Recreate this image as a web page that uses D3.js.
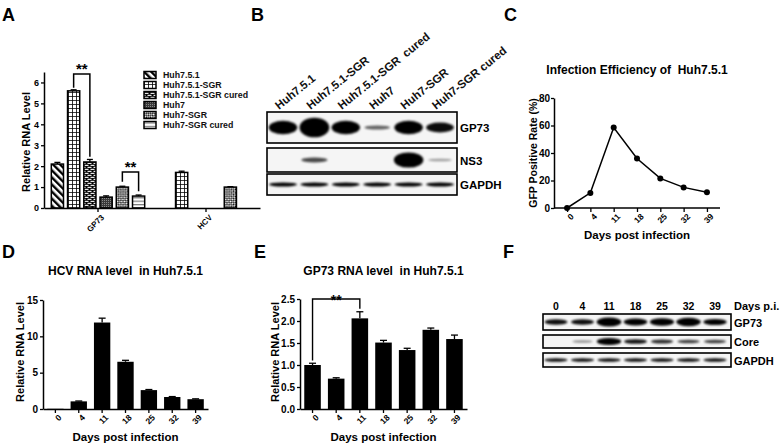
<!DOCTYPE html>
<html><head><meta charset="utf-8">
<script src="https://cdn.jsdelivr.net/npm/d3@7"></script>
<style>
html,body{margin:0;padding:0;background:#fff;}
svg{display:block;font-family:"Liberation Sans",Arial,sans-serif;}
.tick text{font-weight:bold;}
</style></head>
<body><svg id="c" width="781" height="446"></svg>
<script>
// ---------- data ----------
const groupsA = ["GP73", "HCV"];
const seriesA = ["Huh7.5.1", "Huh7.5.1-SGR", "Huh7.5.1-SGR cured", "Huh7", "Huh7-SGR", "Huh7-SGR cured"];
const gp73A = [2.1, 5.6, 2.2, 0.52, 1.0, 0.57];
const gp73ErrA = [0.08, 0.05, 0.12, 0.06, 0.04, 0.05];
const hcvA = [0, 1.7, 0, 0, 1.0, 0];
const hcvErrA = [0, 0.06, 0, 0, 0.02, 0];
const ticksA = [0, 1, 2, 3, 4, 5, 6];

const lanesB = ["Huh7.5.1", "Huh7.5.1-SGR", "Huh7.5.1-SGR  cured", "Huh7", "Huh7-SGR", "Huh7-SGR cured"];
const proteinsB = ["GP73", "NS3", "GAPDH"];
const gp73BlotB = [0.8, 1.0, 0.8, 0.3, 0.8, 0.65];
const ns3BlotB = [0, 0.4, 0, 0, 0.95, 0.06];
const gapdhBlotB = [0.7, 0.7, 0.7, 0.7, 0.7, 0.7];

const days = ["0", "4", "11", "18", "25", "32", "39"];
const gfpRate = [0, 11, 58.5, 36, 21.5, 15, 11.5];
const ticksC = [0, 20, 40, 60, 80];

const hcvRna = [0.03, 1.05, 11.9, 6.5, 2.6, 1.65, 1.35];
const hcvRnaErr = [0, 0.05, 0.6, 0.2, 0.08, 0.06, 0.05];
const ticksD = [0, 5, 10, 15];

const gp73Rna = [1.0, 0.69, 2.06, 1.51, 1.34, 1.8, 1.59];
const gp73RnaErr = [0.04, 0.02, 0.15, 0.05, 0.04, 0.04, 0.09];
const ticksE = [0, 0.5, 1.0, 1.5, 2.0, 2.5];

const proteinsF = ["GP73", "Core", "GAPDH"];
const gp73BlotF = [0.65, 0.65, 0.95, 0.78, 0.85, 0.9, 0.72];
const coreBlotF = [0, 0.12, 0.9, 0.62, 0.52, 0.45, 0.45];
const gapdhBlotF = [0.65, 0.65, 0.65, 0.65, 0.65, 0.65, 0.65];

// ---------- setup ----------
const svg = d3.select("#c");
const defs = svg.append("defs");
defs.append("filter").attr("id", "blur").attr("x", "-50%").attr("y", "-100%").attr("width", "200%").attr("height", "300%")
  .append("feGaussianBlur").attr("stdDeviation", 1.1);

function pat(id, w, h, bg, transform) {
  const p = defs.append("pattern").attr("id", id).attr("patternUnits", "userSpaceOnUse").attr("width", w).attr("height", h);
  if (transform) p.attr("patternTransform", transform);
  p.append("rect").attr("width", w).attr("height", h).attr("fill", bg);
  return p;
}
// 1 diagonal stripes
pat("p0", 5, 5, "#fff", "rotate(-45)").append("rect").attr("width", 2.4).attr("height", 5).attr("fill", "#000");
// 2 grid
const p1 = pat("p1", 4, 4, "#fff");
p1.append("path").attr("d", "M0,0H4M0,0V4").attr("stroke", "#000").attr("stroke-width", 1.6);
// 3 brick
const p2 = pat("p2", 6, 4, "#000");
p2.append("rect").attr("x", 0.5).attr("y", 0.8).attr("width", 4).attr("height", 1.1).attr("fill", "#fff");
p2.append("rect").attr("x", -2.5).attr("y", 2.8).attr("width", 4).attr("height", 1.1).attr("fill", "#fff");
p2.append("rect").attr("x", 3.5).attr("y", 2.8).attr("width", 4).attr("height", 1.1).attr("fill", "#fff");
// 4 dense dark hatch
const p3 = pat("p3", 2, 2, "#3a3a3a");
p3.append("rect").attr("width", 1).attr("height", 1).attr("fill", "#8a8a8a");
// 5 checker diamonds
const p4 = pat("p4", 3, 3, "#fff", "rotate(45)");
p4.append("rect").attr("width", 1.5).attr("height", 1.5).attr("fill", "#000");
p4.append("rect").attr("x", 1.5).attr("y", 1.5).attr("width", 1.5).attr("height", 1.5).attr("fill", "#000");
// 6 horizontal lines
const p5 = pat("p5", 4, 3.4, "#fff");
p5.append("rect").attr("y", 0).attr("width", 4).attr("height", 1.2).attr("fill", "#777");

function panelLetter(t, x, y) {
  svg.append("text").attr("x", x).attr("y", y).attr("font-size", 18).attr("font-weight", "bold").text(t);
}
function styleAxis(g, fs) {
  g.selectAll(".domain").attr("stroke", "#000").attr("stroke-width", 1.5);
  g.selectAll(".tick line").attr("stroke", "#000").attr("stroke-width", 1.3);
  g.selectAll(".tick text").attr("font-size", fs || 9).attr("fill", "#000").attr("font-family", "Liberation Sans, Arial, sans-serif");
}
function yTitle(t, x, y, fs) {
  svg.append("text").attr("transform", `translate(${x},${y}) rotate(-90)`).attr("text-anchor", "middle")
    .attr("font-size", fs || 11.5).attr("font-weight", "bold").text(t);
}
function text(t, x, y, fs, anchor, weight) {
  return svg.append("text").attr("x", x).attr("y", y).attr("font-size", fs).attr("text-anchor", anchor || "middle")
    .attr("font-weight", weight || "bold").text(t);
}
function errBar(g, cx, yTop, yErr, half) {
  g.append("line").attr("x1", cx).attr("x2", cx).attr("y1", yTop).attr("y2", yErr).attr("stroke", "#000").attr("stroke-width", 1.3);
  g.append("line").attr("x1", cx - half).attr("x2", cx + half).attr("y1", yErr).attr("y2", yErr).attr("stroke", "#000").attr("stroke-width", 1.3);
}

// ---------- Panel A ----------
panelLetter("A", 2, 21);
{
  const y = d3.scaleLinear().domain([0, 6.5]).range([208, 72]);
  const x0 = d3.scaleBand().domain(groupsA).range([44, 260]);
  const x1 = d3.scaleBand().domain(seriesA).range([0, x0.bandwidth()]).paddingInner(0.25).paddingOuter(0.45);
  const g = svg.append("g");
  const valsByGroup = [gp73A, hcvA];
  const errByGroup = [gp73ErrA, hcvErrA];
  groupsA.forEach((grp, gi) => {
    seriesA.forEach((s, si) => {
      const v = valsByGroup[gi][si];
      if (v <= 0) return;
      const bx = x0(grp) + x1(s);
      const bw = x1.bandwidth();
      errBar(g, bx + bw / 2, y(v), y(v + errByGroup[gi][si]), 3);
      g.append("rect").attr("x", bx).attr("y", y(v)).attr("width", bw).attr("height", y(0) - y(v))
        .attr("fill", `url(#p${si})`).attr("stroke", "#000").attr("stroke-width", 1.5);
    });
  });
  const ya = svg.append("g").attr("transform", "translate(44,0)")
    .call(d3.axisLeft(y).tickValues(ticksA).tickFormat(d3.format("d")).tickSize(3).tickPadding(2).tickSizeOuter(0));
  styleAxis(ya, 9);
  const xa = svg.append("g").attr("transform", "translate(0,208)").call(d3.axisBottom(x0).tickSize(4).tickSizeOuter(0));
  styleAxis(xa, 8);
  xa.selectAll(".tick text").attr("transform", "rotate(-45)").attr("text-anchor", "end").attr("dx", "-0.3em").attr("dy", "0.6em").attr("font-weight", "normal");
  yTitle("Relative RNA Level", 30, 142, 11);
  // significance brackets
  const cx = (gi, si) => x0(groupsA[gi]) + x1(seriesA[si]) + x1.bandwidth() / 2;
  function bracket(a, b, ya1, yb1, top, label) {
    svg.append("path").attr("d", `M${a},${ya1}V${top}H${b}V${yb1}`).attr("fill", "none").attr("stroke", "#000").attr("stroke-width", 1.5);
    text(label, (a + b) / 2, top - 0.5, 15, "middle", "bold");
  }
  bracket(cx(0, 1), cx(0, 2), y(5.75), y(2.45), 74, "**");
  bracket(cx(0, 4), cx(0, 5), y(1.25), y(0.8), 172, "**");
  // legend
  const lg = svg.append("g");
  const legY = [75, 85, 95, 105, 115, 125];
  seriesA.forEach((s, i) => {
    lg.append("rect").attr("x", 144).attr("y", legY[i] - 3.5).attr("width", 12).attr("height", 7)
      .attr("fill", `url(#p${i})`).attr("stroke", "#000").attr("stroke-width", 1.5);
    lg.append("text").attr("x", 163).attr("y", legY[i] + 3.2).attr("font-size", 8.8).attr("font-weight", "bold").attr("fill", "#111").text(s);
  });
}

// ---------- Blot helper ----------
function blot(xScale, rows, laneW) {
  rows.forEach(r => {
    svg.append("rect").attr("x", r.x0).attr("y", r.y0).attr("width", r.x1 - r.x0).attr("height", r.y1 - r.y0)
      .attr("fill", "#f5f5f5").attr("stroke", "none");
    const clipId = "clip" + Math.round(r.x0) + "_" + Math.round(r.y0);
    defs.append("clipPath").attr("id", clipId).append("rect").attr("x", r.x0).attr("y", r.y0).attr("width", r.x1 - r.x0).attr("height", r.y1 - r.y0);
    const g = svg.append("g").attr("clip-path", `url(#${clipId})`);
    const cy = (r.y0 + r.y1) / 2;
    r.values.forEach((k, i) => {
      if (k <= 0) return;
      const lane = xScale.domain()[i];
      const cx = xScale(lane);
      g.append("ellipse").attr("cx", cx).attr("cy", cy)
        .attr("rx", laneW * (0.38 + 0.1 * k)).attr("ry", 1.3 + k * k * r.maxRy)
        .attr("fill", "#000").attr("opacity", Math.min(1, 0.3 + k)).attr("filter", "url(#blur)");
    });
    svg.append("rect").attr("x", r.x0).attr("y", r.y0).attr("width", r.x1 - r.x0).attr("height", r.y1 - r.y0)
      .attr("fill", "none").attr("stroke", "#000").attr("stroke-width", 1.6);
    text(r.label, r.x1 + 3, cy + 4.5, r.fs, "start", "bold");
  });
}

// ---------- Panel B ----------
panelLetter("B", 251, 21);
{
  const xb = d3.scalePoint().domain(lanesB).range([283, 440]);
  blot(xb, [
    { x0: 267, x1: 457, y0: 112, y1: 143, values: gp73BlotB, maxRy: 8.5, label: proteinsB[0], fs: 11.5 },
    { x0: 267, x1: 457, y0: 148, y1: 172, values: ns3BlotB, maxRy: 7, label: proteinsB[1], fs: 11.5 },
    { x0: 267, x1: 457, y0: 174, y1: 195, values: gapdhBlotB, maxRy: 1.4, label: proteinsB[2], fs: 11.5 }
  ], 31);
  lanesB.forEach(l => {
    svg.append("text").attr("transform", `translate(${xb(l) - 4},110) rotate(-39)`).attr("font-size", 11.5)
      .attr("font-weight", "bold").attr("fill", "#111").attr("xml:space", "preserve").text(l);
  });
}

// ---------- Panel C ----------
panelLetter("C", 504, 21);
{
  const x = d3.scalePoint().domain(days).range([554, 720]).padding(0.56);
  const y = d3.scaleLinear().domain([0, 80]).range([208, 98]);
  const line = d3.line().x((d, i) => x(days[i])).y(d => y(d));
  svg.append("path").datum(gfpRate).attr("d", line).attr("fill", "none").attr("stroke", "#000").attr("stroke-width", 1.5);
  svg.append("g").selectAll("circle").data(gfpRate).join("circle")
    .attr("cx", (d, i) => x(days[i])).attr("cy", d => y(d)).attr("r", 3).attr("fill", "#000");
  const ya = svg.append("g").attr("transform", "translate(554,0)")
    .call(d3.axisLeft(y).tickValues(ticksC).tickSize(3).tickPadding(1).tickSizeOuter(0));
  styleAxis(ya, 10);
  const xa = svg.append("g").attr("transform", "translate(0,208)").call(d3.axisBottom(x).tickSize(4).tickSizeOuter(0));
  xa.select(".domain").attr("d", "M554,0H720");
  styleAxis(xa, 8.5);
  xa.selectAll(".tick text").attr("transform", "rotate(-45)").attr("text-anchor", "end").attr("dx", "-0.2em").attr("dy", "0.5em");
  text("Infection Efficiency of  Huh7.5.1", 637, 74, 12, "middle", "bold").attr("xml:space", "preserve");
  yTitle("GFP Positive Rate (%)", 537, 153, 10.5);
  text("Days post infection", 637, 239, 11.5, "middle", "bold");
}

// ---------- Bar panels D & E ----------
function barPanel(opts) {
  const x = d3.scaleBand().domain(days).range([opts.x0, opts.x1]).paddingInner(0.3).paddingOuter(0.18);
  const y = d3.scaleLinear().domain(opts.domain).range([409, opts.yTop]);
  const g = svg.append("g");
  opts.values.forEach((v, i) => {
    const bx = x(days[i]), bw = x.bandwidth();
    if (opts.errs[i] > 0) errBar(g, bx + bw / 2, y(v), y(v + opts.errs[i]), 3.5);
    g.append("rect").attr("x", bx).attr("y", y(v)).attr("width", bw).attr("height", Math.max(0, y(0) - y(v))).attr("fill", "#000");
  });
  const ya = svg.append("g").attr("transform", `translate(${opts.x0},0)`)
    .call(d3.axisLeft(y).tickValues(opts.ticks).tickFormat(opts.fmt).tickSize(3).tickPadding(2).tickSizeOuter(0));
  styleAxis(ya, 10);
  const xa = svg.append("g").attr("transform", "translate(0,409)").call(d3.axisBottom(x).tickSize(4).tickSizeOuter(0));
  styleAxis(xa, 8.5);
  xa.selectAll(".tick text").attr("transform", "rotate(-45)").attr("text-anchor", "end").attr("dx", "-0.2em").attr("dy", "0.5em");
  const mid = (opts.x0 + opts.x1) / 2;
  text(opts.title, mid, 275, 12, "middle", "bold").attr("xml:space", "preserve");
  yTitle("Relative RNA Level", opts.yt, 352, 11);
  text("Days post infection", mid, 441, 11.5, "middle", "bold");
  return { x, y };
}
panelLetter("D", 2, 258);
barPanel({ x0: 43, x1: 208, domain: [0, 15], yTop: 300, values: hcvRna, errs: hcvRnaErr, ticks: ticksD, fmt: d3.format("d"), title: "HCV RNA level  in Huh7.5.1", yt: 24 });
panelLetter("E", 254, 258);
{
  const s = barPanel({ x0: 300, x1: 467, domain: [0, 2.5], yTop: 299, values: gp73Rna, errs: gp73RnaErr, ticks: ticksE, fmt: d3.format(".1f"), title: "GP73 RNA level  in Huh7.5.1", yt: 279 });
  const a = s.x(days[0]) + s.x.bandwidth() / 2, b = s.x(days[2]) + s.x.bandwidth() / 2;
  svg.append("path").attr("d", `M${a},${s.y(1.1)}V${s.y(2.5)}H${b}V${s.y(2.28)}`).attr("fill", "none").attr("stroke", "#000").attr("stroke-width", 1.4);
  text("**", (a + b) / 2, 305, 14, "middle", "bold");
}

// ---------- Panel F ----------
panelLetter("F", 503, 258);
{
  const xf = d3.scalePoint().domain(days).range([556, 715]);
  blot(xf, [
    { x0: 543, x1: 731, y0: 314, y1: 330, values: gp73BlotF, maxRy: 3.5, label: proteinsF[0], fs: 11 },
    { x0: 543, x1: 731, y0: 335, y1: 348, values: coreBlotF, maxRy: 2.6, label: proteinsF[1], fs: 11 },
    { x0: 543, x1: 731, y0: 353, y1: 367, values: gapdhBlotF, maxRy: 1.2, label: proteinsF[2], fs: 11 }
  ], 26);
  days.forEach(d => text(d, xf(d), 310, 10.5, "middle", "bold"));
  text("Days p.i.", 734, 310, 11, "start", "bold");
}
</script></body></html>
